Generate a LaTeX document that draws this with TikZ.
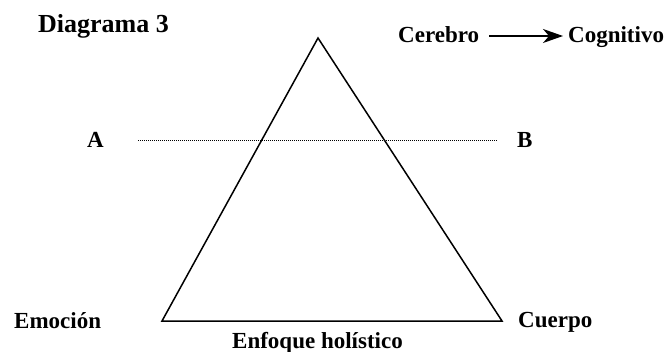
\documentclass[tikz,border=0pt]{standalone}
\usepackage{fontspec}
\setmainfont{Liberation Serif}
\usepackage{tikz}
\usetikzlibrary{arrows.meta,positioning}
\tikzset{
    lbl/.style={
        font=\fontsize{23}{26}\selectfont\bfseries,
        inner sep=0pt,
        text height=19pt,
        text depth=5pt,
        anchor=base west
    },
    side/.style={line width=1.5pt, line join=miter},
    guide/.style={densely dotted, line width=1pt},
    flow/.style={-{Stealth[length=20pt,width=14pt,inset=6pt]}, line width=1.2pt}
}

\begin{document}
\begin{tikzpicture}[x=1pt,y=-1pt]
        \useasboundingbox (0,0) rectangle (668,352);
        \node[lbl, font=\fontsize{26}{30}\selectfont\bfseries] (title) at (38,33) {Diagrama 3};

        \coordinate (top) at (318,38);
        \coordinate (left) at (162,321);
        \coordinate (right) at (502,321);
        \draw[side] (top) -- (left) -- (right) -- cycle;

        \node[lbl] (a) at (87,148) {A};
        \node[lbl] (b) at (517,148) {B};
        \coordinate (ga) at (138,141);
        \coordinate (gb) at (498,141);
        \draw[guide] (ga) -- (gb);

        \node[lbl] (cerebro) at (398,43) {Cerebro};
        \node[lbl] (cognitivo) at (568,43) {Cognitivo};
        \draw[flow, shorten <=10pt, shorten >=5pt] (cerebro) -- (cognitivo);

        \node[lbl] (emocion) at (14,328) {Emoción};
        \node[lbl] (cuerpo) at (518,327) {Cuerpo};
        \node[lbl] (holistico) at (232,348) {Enfoque holístico};
    \end{tikzpicture}
\end{document}
